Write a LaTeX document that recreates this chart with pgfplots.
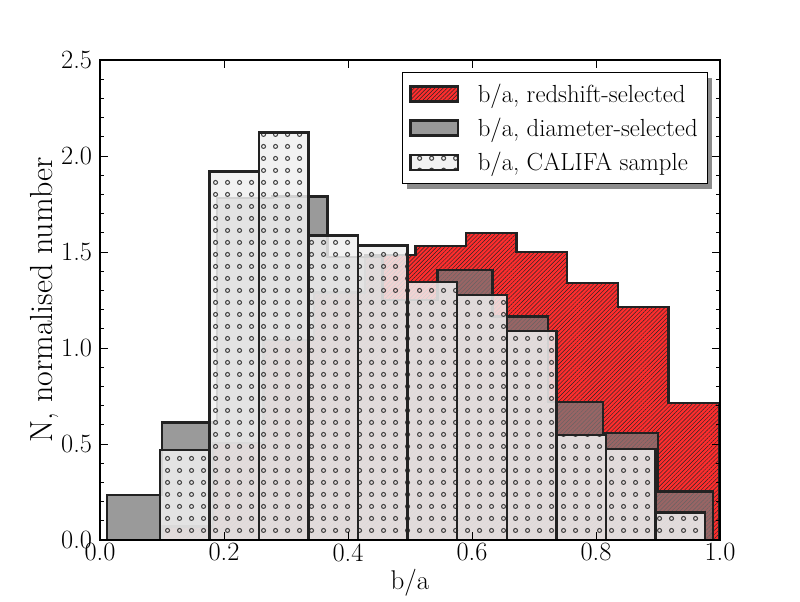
\documentclass[border=0pt]{standalone}
\usepackage{fontspec}
\usepackage{pgfplots}
\pgfplotsset{compat=1.18}
\usetikzlibrary{patterns.meta,shadows}

\definecolor{redfill}{RGB}{255,45,45}
\definecolor{edgec}{RGB}{34,34,34}
\definecolor{grayfill}{RGB}{120,120,120}
\definecolor{califill}{RGB}{240,240,240}

\makeatletter
\tikzset{reset preactions/.code={\let\tikz@preactions\pgfutil@empty}}
\makeatother

\tikzdeclarepattern{
  name=califacircles,
  type=uncolored,
  bounding box={(-4.32pt,-4.32pt) and (4.32pt,4.32pt)},
  tile size={(8.64pt,8.64pt)},
  code={\draw[line width=0.8pt] (0,0) circle (1.55pt);}
}

\pgfplotstableread{
x y
0.1007 0.070
0.1823 0.505
0.2639 1.042
0.3455 1.290
0.4271 1.484
0.5087 1.531
0.5903 1.599
0.6719 1.500
0.7535 1.339
0.8351 1.214
0.9167 0.714
0.9983 0.714
}\redtab

\pgfplotstableread{
x y
0.0113 0.234
0.1002 0.613
0.1890 1.780
0.2779 1.790
0.3668 1.474
0.4556 1.250
0.5445 1.406
0.6334 1.163
0.7223 0.720
0.8111 0.556
0.9000 0.252
0.9889 0.252
}\graytab

\pgfplotstableread{
x y
0.0968 0.469
0.1767 1.918
0.2566 2.123
0.3365 1.585
0.4164 1.533
0.4963 1.345
0.5762 1.276
0.6561 1.089
0.7360 0.547
0.8159 0.474
0.8958 0.142
0.9757 0.142
}\califatab

\begin{document}
\begin{tikzpicture}
\begin{axis}[
  scale only axis, width=446.4pt, height=345.6pt,
  xmin=0, xmax=1, ymin=0, ymax=2.5,
  axis on top,
  xtick={0,0.2,0.4,0.6,0.8,1.0},
  ytick={0,0.5,1,1.5,2,2.5},
  minor y tick num=4,
  major tick length=5.76pt, minor tick length=2.88pt,
  tick style={line width=0.6pt, black},
  axis line style={line width=0.8pt},
  /pgf/number format/fixed, /pgf/number format/fixed zerofill,
  /pgf/number format/precision=1, /pgf/number format/assume math mode=true,
  ticklabel style={font=\fontsize{19}{22}\selectfont},
  yticklabel style={xshift=-2.2pt},
  xticklabel style={yshift=1pt},
  xlabel={b/a}, ylabel={N, normalised number},
  xlabel style={font=\fontsize{19.5}{23}\selectfont, at={(axis description cs:0.5,-0.104)}, anchor=base},
  ylabel style={font=\fontsize{23}{27}\selectfont, at={(axis description cs:-0.0758,0.5)}, anchor=base},
  legend style={at={(1,1)}, anchor=north east, xshift=-8.64pt, yshift=-8.64pt,
    draw=black, line width=0.9pt, fill=white,
    font=\fontsize{17.8}{21}\selectfont, row sep=5.8pt,
    inner xsep=5pt, inner ysep=6pt,
    /tikz/every odd column/.append style={column sep=11.5pt},
    drop shadow={shadow xshift=3.6pt, shadow yshift=-3.6pt, fill=black!45, opacity=1}},
  legend cell align=left,
  legend image code/.code={\draw[reset preactions,#1] (0pt,-5.4pt) rectangle (34pt,5.4pt);},
]
\addlegendimage{fill=redfill, draw=edgec, line width=1.8pt,
  postaction={pattern={Lines[angle=45,distance=2.1pt,line width=0.35pt]}, pattern color=black!85}}
\addlegendentry{b/a, redshift-selected}
\addlegendimage{fill=grayfill, fill opacity=0.75, draw=edgec, line width=1.8pt}
\addlegendentry{b/a, diameter-selected}
\addlegendimage{fill=califill, fill opacity=0.85, draw=edgec, line width=1.8pt,
  postaction={pattern=califacircles, pattern color=black!85}}
\addlegendentry{b/a, CALIFA sample}

\addplot[const plot mark left, fill=redfill, draw=edgec, line width=1.8pt,
  postaction={pattern={Lines[angle=45,distance=2.1pt,line width=0.35pt]}, pattern color=black!85},
  forget plot] table[x=x,y=y] {\redtab} \closedcycle;

\addplot[const plot mark left, fill=grayfill, fill opacity=0.75, draw=edgec, line width=1.8pt,
  forget plot] table[x=x,y=y] {\graytab} \closedcycle;

\addplot[ybar interval, fill=califill, fill opacity=0.85, draw=edgec, line width=1.8pt,
  postaction={pattern=califacircles, pattern color=black!85},
  forget plot] table[x=x,y=y] {\califatab};
\end{axis}
\path (current axis.south west) ++(-72pt,-43.2pt) rectangle ++(576pt,432pt);
\end{tikzpicture}
\end{document}
